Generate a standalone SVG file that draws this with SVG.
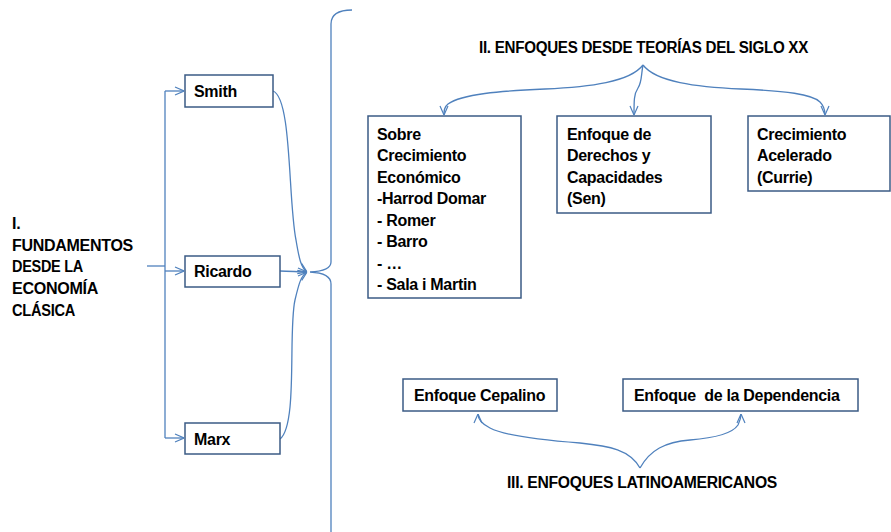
<svg xmlns="http://www.w3.org/2000/svg" width="891" height="532" viewBox="0 0 891 532">
<style>
  .t { font-family: "Liberation Sans", Arial, sans-serif; font-weight: bold; font-size: 16px; fill: #000; letter-spacing: -0.3px; }
  .box { fill: #fff; stroke: #3b5b85; stroke-width: 1.5; }
  .c { fill: none; stroke: #4f81bd; stroke-width: 1.3; }
  .ca { fill: none; stroke: #4f81bd; stroke-width: 1.3; marker-end: url(#arr); }
</style>
<defs>
  <marker id="arr" viewBox="0 0 10 10" refX="10" refY="5" markerWidth="10" markerHeight="10" markerUnits="userSpaceOnUse" orient="auto">
    <path d="M1,1 L10,5 L1,9" fill="none" stroke="#4f81bd" stroke-width="1.2"/>
  </marker>
</defs>
<rect width="891" height="532" fill="#fff"/>

<g id="connectors">
  <!-- left fan-out -->
  <path class="c" d="M147,266 L165,266"/>
  <path class="c" d="M165,91 L165,438"/>
  <path class="ca" d="M165,91 L184,91"/>
  <path class="ca" d="M165,271 L184,271"/>
  <path class="ca" d="M165,438 L184,438"/>
  <!-- convergence -->
  <path class="ca" d="M273,91 C292,98 288,200 296,240 C299,258 301,268 307,272"/>
  <path class="ca" d="M280,271 C290,271 298,272 307,272"/>
  <path class="ca" d="M280,439 C298,425 288,330 295,300 C299,283 301,276 307,272"/>
  <!-- big brace -->
  <path class="c" d="M352,10 Q331,10 331,24 L331,262 Q331,271 310,272 Q331,273 331,284 L331,532"/>
  <!-- section II branches -->
  <path class="ca" d="M643,65 C630,82 590,87 545,89 C500,91 462,94 448,104 C444,107 444,111 444,115"/>
  <path class="ca" d="M643,65 C641,75 642,82 638,88 C634,94 634,100 634,115"/>
  <path class="ca" d="M643,65 C656,82 696,87 741,89 C786,91 812,94 820,102 C824,106 825,110 825,115"/>
  <!-- section III brace -->
  <path class="ca" d="M640,468 C630,450 610,446 580,443 C540,440 505,436 490,428 C482,424 478,419 478,414"/>
  <path class="ca" d="M640,468 C650,450 665,442 690,440 C715,438 732,434 738,425 C740,421 741,418 741,414"/>
</g>

<g id="title-I">
  <text class="t" x="12" y="229">I.</text>
  <text class="t" x="12" y="251" textLength="121" lengthAdjust="spacingAndGlyphs">FUNDAMENTOS</text>
  <text class="t" x="12" y="272" textLength="71" lengthAdjust="spacingAndGlyphs">DESDE LA</text>
  <text class="t" x="12" y="294" textLength="86" lengthAdjust="spacingAndGlyphs">ECONOMÍA</text>
  <text class="t" x="12" y="316" textLength="63" lengthAdjust="spacingAndGlyphs">CLÁSICA</text>
</g>

<g id="smith">
  <rect class="box" x="185" y="75" width="88" height="32"/>
  <text class="t" x="194" y="97">Smith</text>
</g>
<g id="ricardo">
  <rect class="box" x="185" y="256" width="95" height="31"/>
  <text class="t" x="194" y="277">Ricardo</text>
</g>
<g id="marx">
  <rect class="box" x="185" y="423" width="95" height="31"/>
  <text class="t" x="194" y="445">Marx</text>
</g>

<g id="title-II">
  <text class="t" x="479" y="53" textLength="329" lengthAdjust="spacingAndGlyphs">II. ENFOQUES DESDE TEORÍAS DEL SIGLO XX</text>
</g>

<g id="crecimiento-economico">
  <rect class="box" x="368" y="116" width="153" height="182"/>
  <text class="t" x="377" y="139.5">Sobre</text>
  <text class="t" x="377" y="161">Crecimiento</text>
  <text class="t" x="377" y="182.5">Económico</text>
  <text class="t" x="377" y="204">-Harrod Domar</text>
  <text class="t" x="377" y="225.5">- Romer</text>
  <text class="t" x="377" y="247">- Barro</text>
  <text class="t" x="377" y="268.5">- …</text>
  <text class="t" x="377" y="290">- Sala i Martin</text>
</g>

<g id="derechos">
  <rect class="box" x="557" y="116" width="154" height="97"/>
  <text class="t" x="567" y="139.5">Enfoque de</text>
  <text class="t" x="567" y="161">Derechos y</text>
  <text class="t" x="567" y="182.5">Capacidades</text>
  <text class="t" x="567" y="204">(Sen)</text>
</g>

<g id="acelerado">
  <rect class="box" x="748" y="116" width="142" height="75"/>
  <text class="t" x="757" y="139.5">Crecimiento</text>
  <text class="t" x="757" y="161">Acelerado</text>
  <text class="t" x="757" y="182.5">(Currie)</text>
</g>

<g id="cepalino">
  <rect class="box" x="403" y="379" width="154" height="32"/>
  <text class="t" x="414" y="401">Enfoque Cepalino</text>
</g>

<g id="dependencia">
  <rect class="box" x="623" y="379" width="235" height="32"/>
  <text class="t" x="634" y="401" xml:space="preserve">Enfoque  de la Dependencia</text>
</g>

<g id="title-III">
  <text class="t" x="507" y="488" textLength="270" lengthAdjust="spacingAndGlyphs">III. ENFOQUES LATINOAMERICANOS</text>
</g>
</svg>
